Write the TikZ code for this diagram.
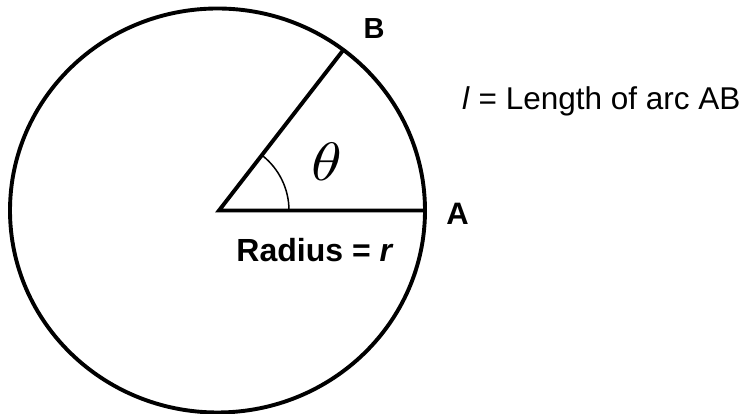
\documentclass[tikz,border=0pt]{standalone}
\usepackage{fontspec}
\setmainfont{Liberation Sans}
\usetikzlibrary{positioning}

\tikzset{
    thickline/.style={line width=3.9pt},
    ptlabel/.style={inner sep=0pt,font=\fontsize{31}{36}\selectfont\bfseries},
}

\begin{document}
\begin{tikzpicture}[x=1pt,y=1pt]
    \useasboundingbox (0,0) rectangle (747,414);
    \coordinate (C) at (217.5,203.5);
    \coordinate (O) at (219,203.5);
    \coordinate (A) at (425,203.5);
    \coordinate (B) at (343.3,364);

    \draw[thickline] (C) ellipse [x radius=207.5, y radius=202];
    \draw[thickline] (A) -- (O) -- (B);
    \draw[line width=1.5pt] ([xshift=70pt]O) arc[start angle=0, end angle=52.2, radius=70];

    \node[ptlabel,font=\fontsize{29}{34}\selectfont\bfseries] (labB) at (374,385.5) {B};
    \node[ptlabel] (labA) at (457.5,200) {A};
    \node[ptlabel,anchor=base,font=\fontsize{32}{36}\selectfont\bfseries] (rad) at (315,152) {Radius = \textit{r}};
    \node[inner sep=0pt] (theta) at (326.7,252.3) {\scalebox{6.2}[5.4]{$\theta$}};
    \node[inner sep=0pt,anchor=base west,font=\fontsize{31.5}{36}\selectfont] (arclen) at (462,304) {\textit{l} = Length of arc AB};
\end{tikzpicture}
\end{document}
